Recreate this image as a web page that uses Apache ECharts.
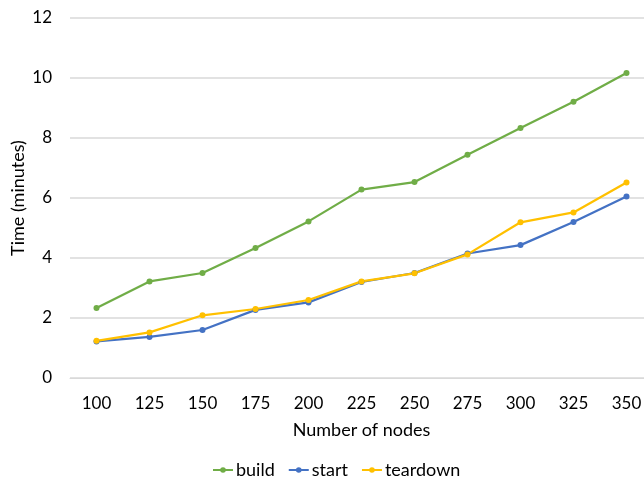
<!DOCTYPE html>
<html>
<head>
<meta charset="utf-8">
<script src="https://cdn.jsdelivr.net/npm/echarts@6/dist/echarts.min.js"></script>
<style>
html,body{margin:0;padding:0;background:#fff;}
#c{width:644px;height:478px;}
</style>
</head>
<body>
<div id="c"></div>
<script>
const categories = ['100','125','150','175','200','225','250','275','300','325','350'];
const build = [2.33, 3.22, 3.5, 4.33, 5.22, 6.28, 6.53, 7.44, 8.33, 9.21, 10.17];
const start = [1.22, 1.37, 1.6, 2.27, 2.52, 3.2, 3.5, 4.15, 4.43, 5.2, 6.05];
const teardown = [1.24, 1.52, 2.09, 2.3, 2.6, 3.22, 3.49, 4.12, 5.19, 5.52, 6.52];
const yTicks = [0, 2, 4, 6, 8, 10, 12];

const FONT = 'Lato, "Open Sans", sans-serif';
const chart = echarts.init(document.getElementById('c'), null, {renderer:'canvas'});
function mk(name, data, color){
  return {
    name, type:'line', data, symbol:'circle', symbolSize:6,
    lineStyle:{color, width:2.25}, itemStyle:{color},
    emphasis:{disabled:true}, animation:false
  };
}
chart.setOption({
  animation:false,
  grid:{left:70, top:18, width:583, height:360, containLabel:false, outerBoundsMode:'none'},
  legend:{
    top:456, left:207, itemWidth:20, itemHeight:7, itemGap:13,
    textStyle:{fontFamily:FONT, fontSize:18, color:'#000', padding:[0,0,0,-2]},
    data:['build','start','teardown']
  },
  xAxis:{
    type:'category', data:categories, boundaryGap:true,
    name:'Number of nodes', nameLocation:'middle', nameGap:43, nameMoveOverlap:false,
    nameTextStyle:{fontFamily:FONT, fontSize:18, color:'#000'},
    axisLine:{lineStyle:{color:'#d9d9d9', width:1}},
    axisTick:{show:false},
    axisLabel:{fontFamily:FONT, fontSize:17, color:'#000', margin:17}
  },
  yAxis:{
    type:'value', min:yTicks[0], max:yTicks[yTicks.length-1], interval:2,
    name:'Time (minutes)', nameLocation:'middle', nameGap:43, nameRotate:90, nameMoveOverlap:false,
    nameTextStyle:{fontFamily:FONT, fontSize:18, color:'#000'},
    axisLine:{show:false}, axisTick:{show:false},
    axisLabel:{fontFamily:FONT, fontSize:17, color:'#000', margin:18},
    splitLine:{lineStyle:{color:'#d9d9d9', width:1.5}}
  },
  series:[
    mk('build', build, '#70ad47'),
    mk('start', start, '#4472c4'),
    mk('teardown', teardown, '#ffc000')
  ]
});
</script>
</body>
</html>
